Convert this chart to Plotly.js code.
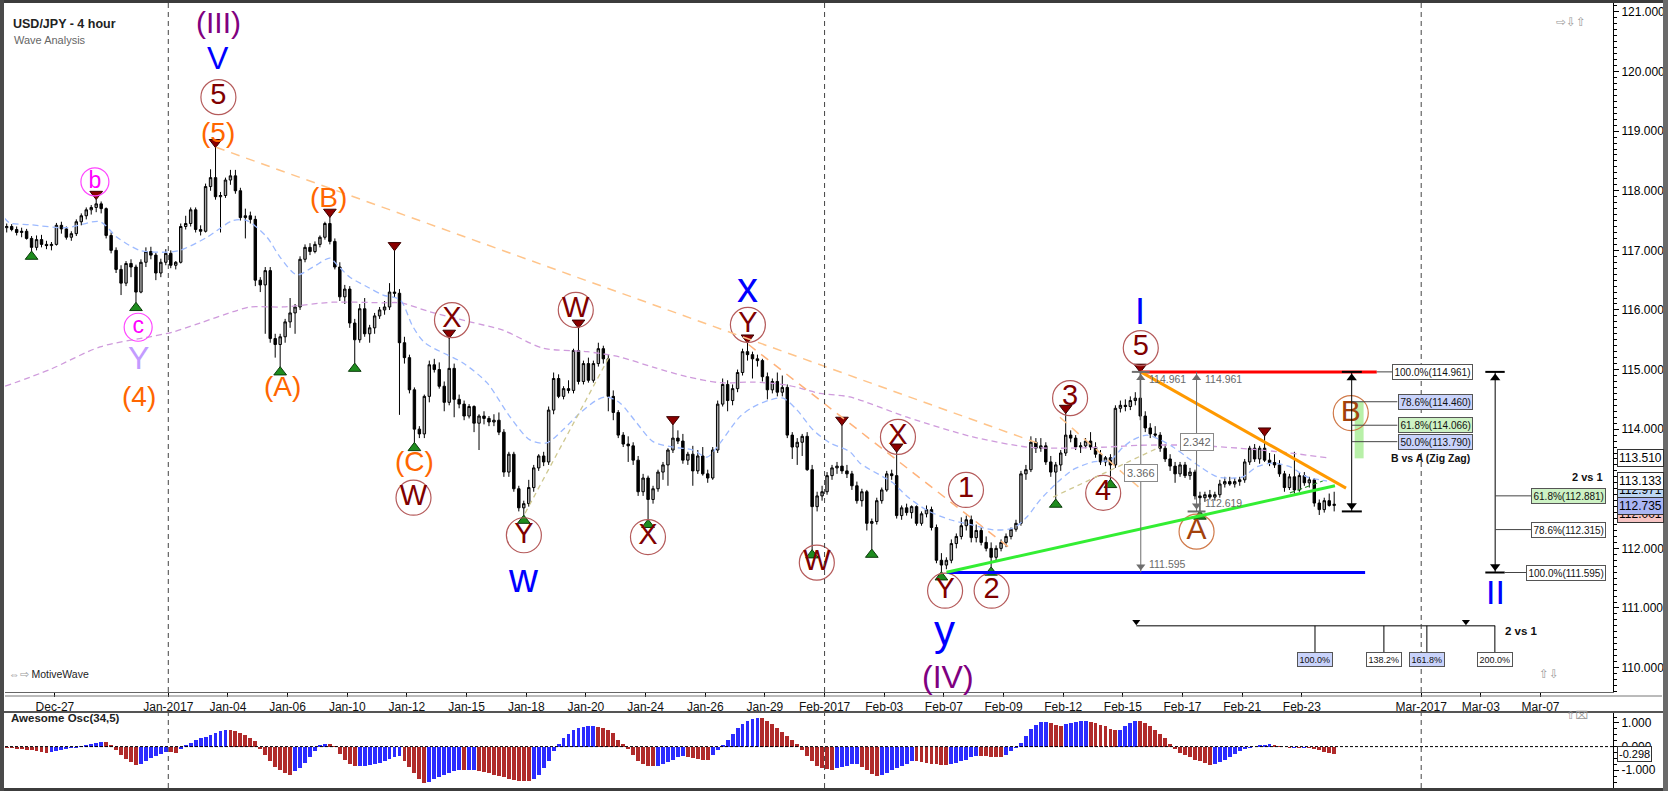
<!DOCTYPE html>
<html>
<head>
<meta charset="utf-8">
<script src="https://cdn.plot.ly/plotly-3.0.1.min.js"></script>
<style>
html,body{margin:0;padding:0;background:#fff;overflow:hidden;}
#chart{width:1668px;height:791px;}
</style>
</head>
<body>
<div id="chart"></div>
<script>
// ================= DATA =================
// x axis = trading-day index (Mon 2 Jan 2017 = 0), 6 four-hour bars per day
const tickLabels = ['Dec-27','Jan-2017','Jan-04','Jan-06','Jan-10','Jan-12','Jan-15','Jan-18','Jan-20','Jan-24','Jan-26','Jan-29',
  'Feb-2017','Feb-03','Feb-07','Feb-09','Feb-12','Feb-15','Feb-17','Feb-21','Feb-23','Mar-2017','Mar-03','Mar-07'];
const tickDays = [-3.8,0,2,4,6,8,10,12,14,16,18,20,22,24,26,28,30,32,34,36,38,42,44,46];
const monthStartDays = [0,22,42];
const firstBarDay = -6 + 3.5/6;   // 4th bar of Fri 23 Dec

const open = [
117.38,117.40,117.35,
117.30,117.32,117.20,117.05,117.18,117.10,
117.08,117.10,117.42,117.36,117.22,117.28,
117.48,117.58,117.68,117.72,117.78,117.70,
117.25,117.00,116.68,116.45,116.78,116.72,
116.30,116.80,116.98,116.92,116.62,116.80,
116.95,116.75,116.80,117.40,117.45,117.68,
117.35,117.32,118.07,118.22,117.90,117.92,
118.18,118.25,118.00,117.55,117.58,117.52,
116.50,116.42,116.66,115.52,115.42,115.55,
115.80,115.95,116.05,116.85,117.05,116.98,
117.10,117.22,117.45,117.15,116.72,116.22,
116.35,115.78,115.50,116.02,115.60,115.70,
115.90,116.00,116.05,116.30,116.28,115.45,
115.20,114.66,114.00,113.92,114.55,115.08,
115.00,114.72,114.45,115.02,114.50,114.42,
114.22,114.38,114.10,114.22,114.18,114.12,
114.15,113.95,113.28,113.58,113.00,112.68,
112.75,113.02,113.35,113.55,113.45,114.32,
114.85,114.55,114.68,114.65,115.32,114.80,
115.10,114.82,115.10,115.35,115.18,114.55,
114.28,113.90,113.75,113.72,113.48,112.95,
113.18,112.82,113.00,113.28,113.40,113.65,
113.85,113.80,113.48,113.58,113.30,113.55,
113.25,113.18,113.65,114.42,114.75,114.48,
114.68,114.95,115.30,115.25,115.18,115.15,
114.88,114.66,114.80,114.62,114.70,113.90,
113.70,113.78,113.88,113.32,112.70,112.88,
112.95,113.22,113.35,113.38,113.30,113.25,
113.05,112.80,112.95,112.42,112.45,112.80,
112.98,113.25,113.22,112.55,112.68,112.60,
112.70,112.42,112.58,112.65,112.35,111.80,
111.72,111.80,112.08,112.20,112.38,112.48,
112.18,112.30,112.10,112.00,111.85,112.00,
112.10,112.20,112.32,112.42,113.25,113.32,
113.78,113.68,113.72,113.45,113.28,113.40,
113.60,113.90,113.85,113.70,113.72,113.80,
113.70,113.58,113.45,113.52,113.40,114.35,
114.40,114.38,114.48,114.52,114.22,114.02,
113.92,113.90,113.68,113.50,113.38,113.25,
113.40,113.22,113.28,112.88,112.85,112.90,
112.86,112.90,113.08,113.12,113.08,113.12,
113.15,113.45,113.68,113.50,113.68,113.48,
113.44,113.40,113.25,113.02,113.20,112.98,
113.22,113.10,113.15,112.76,112.65,112.80,
112.72];

const high = [
117.45,117.44,117.40,
117.38,117.36,117.24,117.25,117.26,117.16,
117.14,117.46,117.48,117.40,117.32,117.52,
117.62,117.72,117.76,117.86,117.82,117.72,
117.30,117.05,116.75,116.82,116.85,116.76,
116.85,117.05,117.06,116.96,116.86,117.02,
117.00,116.82,117.45,117.58,117.72,117.72,
117.42,118.12,118.36,118.73,117.98,118.22,
118.35,118.35,118.05,117.70,117.65,117.58,
116.55,116.72,116.72,115.60,115.60,115.85,
116.20,116.10,116.90,117.10,117.12,117.15,
117.25,117.48,117.56,117.20,116.80,116.42,
116.40,115.85,116.10,116.20,115.75,115.95,
116.05,116.15,116.45,117.00,116.35,115.55,
115.25,114.70,114.05,114.58,115.15,115.18,
115.12,114.80,115.53,115.10,114.58,114.48,
114.42,114.40,114.25,114.30,114.22,114.25,
114.28,114.00,113.62,113.62,113.05,112.80,
113.15,113.40,113.58,113.62,114.38,114.95,
114.92,114.72,114.82,115.35,115.70,115.15,
115.20,115.15,115.45,115.40,115.25,114.65,
114.32,113.95,113.88,113.78,113.55,113.25,
113.22,113.05,113.32,113.45,113.68,114.08,
113.98,113.92,113.62,113.72,113.65,113.70,
113.32,113.70,114.48,114.85,114.82,114.75,
115.00,115.35,115.45,115.30,115.25,115.18,
114.95,114.85,114.95,114.90,114.75,113.95,
113.85,113.92,113.95,113.40,112.95,113.05,
113.28,113.40,113.45,114.07,113.40,113.30,
113.12,113.00,112.98,112.50,112.85,113.02,
113.30,113.32,113.62,112.72,112.75,112.72,
112.72,112.62,112.72,112.70,112.40,111.92,
111.85,112.15,112.25,112.52,112.55,112.55,
112.40,112.35,112.20,112.10,112.05,112.15,
112.25,112.35,112.48,113.30,113.40,113.88,
113.85,113.85,113.78,113.55,113.45,113.65,
114.27,113.98,113.90,113.78,113.85,113.95,
113.78,113.65,113.55,113.58,114.40,114.48,
114.50,114.55,114.62,114.96,114.30,114.10,
114.05,113.95,113.75,113.58,113.45,113.45,
113.45,113.35,113.32,112.95,112.95,112.98,
112.95,113.15,113.20,113.20,113.18,113.20,
113.50,113.72,113.75,113.72,113.89,113.60,
113.58,113.48,113.30,113.25,113.62,113.28,
113.28,113.20,113.18,112.82,112.85,112.92,
112.95];

const low = [
117.30,117.32,117.25,
117.22,117.18,116.98,117.00,117.05,117.02,
117.00,117.08,117.28,117.18,117.16,117.24,
117.42,117.52,117.60,117.64,117.62,117.20,
116.95,116.62,116.25,116.40,116.55,116.12,
116.28,116.72,116.85,116.50,116.55,116.75,
116.70,116.68,116.78,117.35,117.40,117.30,
117.25,117.30,118.00,117.85,117.30,117.88,
118.10,117.95,117.50,117.20,117.45,116.40,
116.30,115.60,115.45,115.20,115.04,115.45,
115.70,115.60,116.00,116.80,116.92,116.95,
117.05,117.18,117.10,116.68,116.15,116.10,
115.70,115.10,115.45,115.55,115.45,115.60,
115.85,115.92,116.00,116.20,114.24,115.10,
114.60,113.77,113.85,113.85,114.45,114.95,
114.68,114.30,114.40,114.20,114.35,114.15,
114.18,113.95,113.65,114.08,114.05,114.05,
113.90,113.20,113.20,112.95,112.62,112.55,
112.70,112.95,113.30,113.38,113.40,114.25,
114.52,114.50,114.60,114.60,114.75,114.75,
114.78,114.78,115.05,115.10,114.30,114.15,
113.85,113.70,113.45,113.40,112.88,112.88,
112.48,112.75,112.95,113.15,113.05,113.60,
113.75,113.42,113.40,113.05,113.25,113.22,
113.10,113.15,113.60,114.38,114.30,114.40,
114.62,114.90,115.15,114.85,115.05,114.80,
114.50,114.60,114.55,114.55,113.85,113.50,
113.40,113.55,113.30,111.97,112.62,112.80,
112.90,113.15,113.25,113.25,113.18,112.98,
112.75,112.70,112.30,111.98,112.40,112.75,
112.95,113.15,112.50,112.48,112.55,112.50,
112.38,112.38,112.52,112.30,111.75,111.60,
111.65,111.75,112.00,112.15,112.30,112.10,
112.10,112.05,111.95,111.68,111.80,111.95,
112.02,112.15,112.28,112.38,113.15,113.28,
113.60,113.62,113.40,113.20,112.82,113.30,
113.55,113.78,113.65,113.60,113.68,113.65,
113.52,113.40,113.38,113.15,113.35,114.28,
114.30,114.32,114.40,114.15,113.95,113.85,
113.85,113.62,113.45,113.30,113.10,113.20,
113.18,113.15,112.82,112.62,112.78,112.82,
112.80,112.85,113.02,113.05,113.02,113.05,
113.10,113.40,113.45,113.42,113.45,113.38,
113.35,113.20,112.95,112.98,112.92,112.95,
113.05,113.02,112.70,112.56,112.60,112.70,
112.62];

const close = [
117.40,117.35,117.30,
117.32,117.20,117.05,117.18,117.10,117.08,
117.10,117.42,117.36,117.22,117.28,117.48,
117.58,117.68,117.72,117.78,117.70,117.25,
117.00,116.68,116.45,116.78,116.72,116.30,
116.80,116.98,116.92,116.62,116.80,116.95,
116.75,116.80,117.40,117.45,117.68,117.35,
117.32,118.07,118.22,117.90,117.92,118.18,
118.25,118.00,117.55,117.58,117.52,116.50,
116.42,116.66,115.52,115.42,115.55,115.80,
115.95,116.05,116.85,117.05,116.98,117.10,
117.22,117.45,117.15,116.72,116.22,116.35,
115.78,115.50,116.02,115.60,115.70,115.90,
116.00,116.05,116.30,116.28,115.45,115.20,
114.66,114.00,113.92,114.55,115.08,115.00,
114.72,114.45,115.02,114.50,114.42,114.22,
114.38,114.10,114.22,114.18,114.12,114.15,
113.95,113.28,113.58,113.00,112.68,112.75,
113.02,113.35,113.55,113.45,114.32,114.85,
114.55,114.68,114.65,115.32,114.80,115.10,
114.82,115.10,115.35,115.18,114.55,114.28,
113.90,113.75,113.72,113.48,112.95,113.18,
112.82,113.00,113.28,113.40,113.65,113.85,
113.80,113.48,113.58,113.30,113.55,113.25,
113.18,113.65,114.42,114.75,114.48,114.68,
114.95,115.30,115.25,115.18,115.15,114.88,
114.66,114.80,114.62,114.70,113.90,113.70,
113.78,113.88,113.32,112.70,112.88,112.95,
113.22,113.35,113.38,113.30,113.25,113.05,
112.80,112.95,112.42,112.45,112.80,112.98,
113.25,113.22,112.55,112.68,112.60,112.70,
112.42,112.58,112.65,112.35,111.80,111.72,
111.80,112.08,112.20,112.38,112.48,112.18,
112.30,112.10,112.00,111.85,112.00,112.10,
112.20,112.32,112.42,113.25,113.32,113.78,
113.68,113.72,113.45,113.28,113.40,113.60,
113.90,113.85,113.70,113.72,113.80,113.70,
113.58,113.45,113.52,113.40,114.35,114.40,
114.38,114.48,114.52,114.22,114.02,113.92,
113.90,113.68,113.50,113.38,113.25,113.40,
113.22,113.28,112.88,112.85,112.90,112.86,
112.90,113.08,113.12,113.08,113.12,113.15,
113.45,113.68,113.50,113.68,113.48,113.44,
113.40,113.25,113.02,113.20,112.98,113.22,
113.10,113.15,112.76,112.65,112.80,112.72,
112.74];

// Awesome Oscillator (34,5), one value per bar
const ao = [
-0.05,-0.08,-0.10,
-0.12,-0.14,-0.16,-0.18,-0.22,-0.28,
-0.24,-0.20,-0.16,-0.12,-0.08,-0.04,
0.02,0.08,0.13,0.17,0.20,0.18,
0.08,-0.15,-0.35,-0.52,-0.66,-0.76,
-0.72,-0.62,-0.50,-0.40,-0.30,-0.22,
-0.24,-0.26,-0.12,0.05,0.15,0.28,
0.36,0.42,0.50,0.58,0.66,0.72,
0.70,0.65,0.58,0.50,0.38,0.22,
-0.10,-0.35,-0.60,-0.85,-1.00,-1.12,
-1.18,-1.05,-0.90,-0.70,-0.45,-0.20,
0.05,0.12,0.10,0.04,-0.30,-0.55,
-0.75,-0.83,-0.82,-0.80,-0.76,-0.72,
-0.68,-0.60,-0.52,-0.46,-0.40,-0.60,
-0.85,-1.10,-1.35,-1.53,-1.48,-1.38,
-1.30,-1.20,-1.10,-1.03,-0.98,-1.00,
-0.98,-0.97,-1.02,-1.07,-1.12,-1.18,
-1.24,-1.30,-1.36,-1.41,-1.45,-1.46,
-1.47,-1.38,-1.18,-0.92,-0.60,-0.20,
0.10,0.35,0.55,0.70,0.78,0.82,
0.85,0.87,0.84,0.78,0.70,0.58,
0.30,0.12,-0.10,-0.35,-0.60,-0.75,
-0.80,-0.83,-0.80,-0.75,-0.67,-0.58,
-0.45,-0.38,-0.42,-0.48,-0.52,-0.55,
-0.56,-0.35,-0.15,0.05,0.30,0.55,
0.80,0.95,1.08,1.16,1.22,1.20,
1.10,0.95,0.80,0.62,0.45,0.28,
0.10,-0.15,-0.40,-0.62,-0.80,-0.92,
-0.95,-0.97,-0.90,-0.85,-0.80,-0.75,
-0.72,-0.85,-1.00,-1.15,-1.25,-1.20,
-1.10,-1.00,-0.90,-0.80,-0.72,-0.60,
-0.62,-0.65,-0.70,-0.72,-0.74,-0.76,
-0.77,-0.72,-0.68,-0.62,-0.55,-0.45,
-0.38,-0.40,-0.41,-0.42,-0.44,-0.45,
-0.35,-0.20,-0.05,0.15,0.45,0.75,
0.92,1.02,1.05,1.00,0.92,0.88,
0.95,1.00,1.05,1.08,1.10,1.05,
0.98,0.92,0.85,0.76,0.70,0.72,
0.88,1.00,1.10,1.08,1.00,0.88,
0.72,0.55,0.35,0.12,-0.10,-0.25,
-0.35,-0.45,-0.55,-0.62,-0.70,-0.76,
-0.74,-0.66,-0.55,-0.45,-0.32,-0.20,
-0.10,-0.05,0.00,0.05,0.08,0.09,
0.06,0.02,-0.03,-0.05,-0.04,-0.06,
-0.05,-0.08,-0.10,-0.15,-0.22,-0.28,
-0.30];

// moving averages (light blue fast, violet slow) read at sample points
const maFastDay = [-5.49,-5.31,-4.64,-3.40,-2.29,-1.72,-0.95,-0.04,0.39,1.30,2.17,2.64,3.31,3.74,4.31,4.85,5.42,5.65,6.09,6.66,
  7.20,7.77,8.20,8.60,9.88,10.68,11.45,12.12,12.69,13.23,13.80,14.37,14.70,15.14,15.71,16.25,16.92,17.59,18.06,18.50,
  19.16,19.60,20.17,20.61,21.08,21.61,22.18,22.85,23.19,23.96,24.29,24.77,25.43,26.21,26.97,27.65,28.32,28.79,29.22,29.79,
  30.33,31.00,31.57,32.01,32.34,32.81,33.25,33.68,34.15,34.59,35.16,35.69,36.03,36.50,37.03,37.60,38.17,38.84];
const maFast = [117.54,117.46,117.43,117.38,117.48,117.22,117.00,116.97,117.00,117.22,117.50,117.50,117.22,116.89,116.59,116.72,116.87,116.76,116.55,116.39,
  116.25,116.17,115.72,115.45,115.11,114.78,114.21,113.82,113.77,113.99,114.27,114.49,114.54,114.44,114.10,113.79,113.70,113.65,113.53,113.77,
  114.21,114.37,114.49,114.52,114.32,113.99,113.77,113.62,113.43,113.20,113.10,112.87,112.64,112.48,112.39,112.31,112.34,112.53,112.81,113.10,
  113.32,113.45,113.48,113.70,113.82,113.90,113.82,113.70,113.53,113.37,113.20,113.18,113.20,113.37,113.43,113.37,113.20,113.13];
const maSlowDay = [-5.47,-3.97,-2.29,-0.61,0.16,1.06,2.17,2.74,3.85,5.52,7.20,7.77,8.77,10.11,11.22,12.56,14.04,15.14,16.25,17.39,
  18.50,19.60,20.74,21.85,22.85,24.77,26.97,28.79,29.89,31.47,32.58,34.25,35.93,37.60,38.84];
const maSlow = [114.72,115.00,115.38,115.55,115.63,115.78,115.97,116.05,116.05,116.13,116.12,116.12,115.97,115.80,115.66,115.36,115.30,115.21,115.04,114.88,
  114.78,114.79,114.74,114.60,114.54,114.20,113.87,113.70,113.68,113.70,113.73,113.73,113.68,113.60,113.52];

// swing markers (bar indices)
const topPivotBars = [18,42,65,78,89,115,134,149,168,179,213,228,253];
const bottomPivotBars = [5,26,55,70,82,104,129,162,174,188,198,211,222,240];

// wave labels
const circleLabels = ['5','W','X','Y','W','X','Y','W','X','1','Y','2','3','4','5'];
const circleDay   = [1.68,8.22,9.51,11.92,13.66,16.08,19.43,21.74,24.46,26.74,26.04,27.60,30.23,31.34,32.60];
const circlePrice = [119.57,112.85,115.83,112.22,116.00,112.19,115.75,111.76,113.87,112.98,111.29,111.29,114.52,112.93,115.36];
const abLabels = ['A','B'];
const abDay = [34.47,39.64];
const abPrice = [112.28,114.27];
const minorLabels = ['b','c'];
const minorDay = [-2.46,-1.01];
const minorPrice = [118.15,115.71];
const plainLabels = ['(III)','V','(5)','Y','(4)','(A)','(B)','(C)','w','x','y','(IV)','I','II'];
const plainDay   = [1.68,1.68,1.68,-1.01,-0.98,3.84,5.36,8.27,11.89,19.43,26.02,26.15,32.57,44.48];
const plainPrice = [120.83,120.23,118.97,115.19,114.54,114.71,117.88,113.45,111.50,116.37,110.62,109.84,115.97,111.27];

// drawn lines [day0, price0, day1, price1]
const waveHighLine = [32.60,114.961,40.51,114.961];
const waveLowLine  = [26.10,111.595,40.12,111.595];
const triUpper     = [32.60,114.961,39.48,113.01];
const triLower     = [26.09,111.60,39.11,113.05];
const dashLong     = [1.60,118.73,29.12,113.77];
const dashSteep    = [19.45,115.42,28.30,111.97];
const dashShort    = [29.89,114.20,32.57,113.01];
const khaki1       = [11.96,112.59,14.81,115.24];
const khaki2       = [29.66,112.86,33.24,113.70];

// measurements
const measureDay = [32.60,34.47];
const measureTop = [114.961,114.961];
const measureBottom = [111.595,112.619];
const measureSpan = ['3.366','2.342'];
const measureSpanPrice = [113.26,113.79];

// fibonacci boxes
const fibABText = ['100.0%(114.961)','78.6%(114.460)','61.8%(114.066)','50.0%(113.790)'];
const fibABLevel = [114.961,114.460,114.066,113.790];
const fib21Text = ['61.8%(112.881)','78.6%(112.315)','100.0%(111.595)'];
const fib21Level = [112.881,112.315,111.595];
const timeFibText = ['100.0%','138.2%','161.8%','200.0%'];
const timeFibDay = [38.44,40.75,42.19,44.47];

const priceTicks = [110,111,112,113,114,115,116,117,118,119,120,121];
const tagText = ['112.001','112.971','112.735','113.133','113.510'];
const tagPrice = [112.57,112.98,112.71,113.13,113.51];
const aoLast = '-0.298';

// ================= DRAWING =================
const W = 1668, H = 791;
const px = v => v / W, py = v => 1 - v / H;
const PRICE_RANGE = [109.59, 121.15];
const X_RANGE = [-5.474, 48.43];
const pxPerUnit = (692 - 3) / (PRICE_RANGE[1] - PRICE_RANGE[0]);
const off = p => p / pxPerUnit;

const barDay = open.map((_, i) => firstBarDay + i / 6);
const FONT = 'Liberation Sans, Arial, sans-serif';

const traces = [];
traces.push({type:'scatter', mode:'lines', x:maSlowDay, y:maSlow, hoverinfo:'skip',
  line:{color:'#cf9bdc', width:1.3, dash:'6px,4px', shape:'spline', smoothing:0.8}});
traces.push({type:'scatter', mode:'lines', x:maFastDay, y:maFast, hoverinfo:'skip',
  line:{color:'#9dbaff', width:1.3, dash:'6px,4px', shape:'spline', smoothing:0.8}});
traces.push({type:'candlestick', x:barDay, open:open, high:high, low:low, close:close, hoverinfo:'skip',
  whiskerwidth:0,
  increasing:{line:{color:'#000', width:1}, fillcolor:'#a8a8a8'},
  decreasing:{line:{color:'#000', width:1}, fillcolor:'#000'}});
traces.push({type:'scatter', mode:'markers', hoverinfo:'skip',
  x:topPivotBars.map(i => barDay[i]), y:topPivotBars.map(i => high[i] + off(5)),
  marker:{symbol:'triangle-down', size:11, color:'#8b0000', line:{color:'#3a0000', width:1}}});
traces.push({type:'scatter', mode:'markers', hoverinfo:'skip',
  x:bottomPivotBars.map(i => barDay[i]), y:bottomPivotBars.map(i => low[i] - off(5)),
  marker:{symbol:'triangle-up', size:11, color:'#1e8c1e', line:{color:'#0b3b0b', width:1}}});

// AO histogram
traces.push({type:'bar', x:barDay, y:ao, xaxis:'x', yaxis:'y2', hoverinfo:'skip', width:0.13,
  marker:{color:ao.map((v,i) => (i > 0 && v > ao[i-1]) ? '#2b2bff' : '#b02a2a'), line:{width:0}}});

// circled labels
traces.push({type:'scatter', mode:'markers+text', x:circleDay, y:circlePrice, text:circleLabels, hoverinfo:'skip',
  textposition:'middle center', textfont:{family:FONT, size:29, color:'#800000'},
  marker:{symbol:'circle-open', size:35, color:'#b55b5b', line:{width:1.2}}});
traces.push({type:'scatter', mode:'markers+text', x:abDay, y:abPrice, text:abLabels, hoverinfo:'skip',
  textposition:'middle center', textfont:{family:FONT, size:30, color:'#a3420c'},
  marker:{symbol:'circle-open', size:35, color:'#d07a4a', line:{width:1.2}}});
traces.push({type:'scatter', mode:'markers+text', x:minorDay, y:minorPrice, text:minorLabels, hoverinfo:'skip',
  textposition:'middle center', textfont:{family:FONT, size:23, color:'#ff00ff'},
  marker:{symbol:'circle-open', size:28, color:'#ff44ff', line:{width:1.2}}});

// arrowheads of measuring tools
traces.push({type:'scatter', mode:'markers', hoverinfo:'skip',
  x:[measureDay[0],measureDay[0],measureDay[1],measureDay[1]],
  y:[measureTop[0]-off(6),measureBottom[0]+off(6),measureTop[1]-off(6),measureBottom[1]+off(6)],
  marker:{symbol:['triangle-up','triangle-down','triangle-up','triangle-down'], size:8, color:'#6e6e6e'}});
const abDayX = 39.67, d21X = 44.48;
traces.push({type:'scatter', mode:'markers', hoverinfo:'skip',
  x:[abDayX,abDayX,d21X,d21X],
  y:[fibABLevel[0]-off(6),112.62+off(6),fibABLevel[0]-off(6),fib21Level[2]+off(6)],
  marker:{symbol:['triangle-up','triangle-down','triangle-up','triangle-down'], size:9, color:'#000'}});
traces.push({type:'scatter', mode:'markers', hoverinfo:'skip',
  x:[32.45,43.5], y:[110.70+off(4),110.70+off(4)],
  marker:{symbol:'triangle-down', size:7, color:'#000'}});

// ---- shapes ----
const shapes = [];
function seg(a, color, width, dash){ shapes.push({type:'line', xref:'x', yref:'y', x0:a[0], y0:a[1], x1:a[2], y1:a[3], line:{color:color, width:width, dash:dash||'solid'}}); }
shapes.push({type:'rect', xref:'x', yref:'y', x0:39.77, x1:40.07, y0:113.51, y1:114.46, fillcolor:'#b8f0a8', line:{width:0}, layer:'below'});
seg(dashLong, '#ffc48a', 1.5, '9px,7px');
seg(dashSteep, '#ffb27a', 1.5, '9px,7px');
seg(dashShort, '#ffc48a', 1.5, '9px,7px');
seg(khaki1, '#cfc890', 1.3, '5px,4px');
seg(khaki2, '#cfc890', 1.3, '5px,4px');
seg([37.6,112.93,38.7,113.13], '#2e8b2e', 1.2, '5px,3px');
seg(waveHighLine, '#ff0000', 3);
seg(waveLowLine, '#0000ff', 3);
seg(triUpper, '#ff9900', 3);
seg(triLower, '#33ee33', 3);
// measuring tools
for (let i = 0; i < 2; i++) seg([measureDay[i], measureTop[i], measureDay[i], measureBottom[i]], '#6e6e6e', 1);
seg([32.30,114.961,32.90,114.961], '#6e6e6e', 2);
seg([34.17,112.619,34.77,112.619], '#6e6e6e', 2);
// B vs A fib
seg([abDayX, 112.62, abDayX, fibABLevel[0]], '#000', 1);
seg([39.34, fibABLevel[0], 40.01, fibABLevel[0]], '#000', 2);
seg([39.34, 112.62, 40.01, 112.62], '#000', 2);
seg([40.51, fibABLevel[0], 41.2, fibABLevel[0]], '#444', 1);
for (let i = 1; i < fibABLevel.length; i++) seg([abDayX, fibABLevel[i], 41.2, fibABLevel[i]], '#444', 1);
// 2 vs 1 fib
seg([d21X, fib21Level[2], d21X, fibABLevel[0]], '#000', 1);
seg([44.15, fibABLevel[0], 44.80, fibABLevel[0]], '#000', 2);
seg([44.15, fib21Level[2], 44.80, fib21Level[2]], '#000', 2);
for (let i = 0; i < fib21Level.length; i++) seg([i === 2 ? 44.80 : d21X, fib21Level[i], 45.8, fib21Level[i]], '#444', 1);
// time fib
seg([32.45, 110.70, 44.48, 110.70], '#000', 1);
timeFibDay.forEach(d => seg([d, 110.70, d, 110.26], '#000', 1));
// month separators
monthStartDays.forEach(d => {
  shapes.push({type:'line', xref:'x', yref:'paper', x0:d, x1:d, y0:py(692), y1:py(3), line:{color:'#444', width:1, dash:'5px,4px'}});
  shapes.push({type:'line', xref:'x', yref:'paper', x0:d, x1:d, y0:py(788), y1:py(713), line:{color:'#444', width:1, dash:'5px,4px'}});
});
// AO zero line
shapes.push({type:'line', xref:'x', yref:'y2', x0:X_RANGE[0], x1:X_RANGE[1], y0:0, y1:0, line:{color:'#000', width:1, dash:'3px,2px'}});
// frame
shapes.push({type:'line', xref:'paper', yref:'paper', x0:px(5), x1:px(1662), y0:py(696), y1:py(696), line:{color:'#777', width:1}});
shapes.push({type:'line', xref:'paper', yref:'paper', x0:0, x1:1, y0:py(712), y1:py(712), line:{color:'#555', width:2}});
shapes.push({type:'rect', xref:'paper', yref:'paper', x0:0, x1:1, y0:py(3), y1:1, fillcolor:'#3c3c3c', line:{width:0}});
shapes.push({type:'rect', xref:'paper', yref:'paper', x0:0, x1:1, y0:0, y1:py(788), fillcolor:'#3c3c3c', line:{width:0}});
shapes.push({type:'rect', xref:'paper', yref:'paper', x0:0, x1:px(4), y0:0, y1:1, fillcolor:'#4a4a4a', line:{width:0}});
shapes.push({type:'rect', xref:'paper', yref:'paper', x0:px(1663), x1:1, y0:0, y1:1, fillcolor:'#6a6a6a', line:{width:0}});

// ---- annotations ----
const ann = [];
const plainColor = ['#800080','#0000ff','#ff6600','#c39bff','#ff6600','#ff6600','#ff6600','#ff6600','#0000ff','#0000ff','#0000ff','#800080','#0000ff','#0000ff'];
const plainSize  = [30,32,28,32,28,28,28,28,40,42,42,32,36,34];
plainLabels.forEach((t,i) => ann.push({x:plainDay[i], y:plainPrice[i], xref:'x', yref:'y', text:t, showarrow:false,
  font:{family:FONT, size:plainSize[i], color:plainColor[i]}}));
// measuring labels
const mFont = {family:FONT, size:10.5, color:'#6a6a6a'};
ann.push({x:32.80, y:114.84, xref:'x', yref:'y', text:'114.961', showarrow:false, xanchor:'left', font:mFont});
ann.push({x:34.68, y:114.84, xref:'x', yref:'y', text:'114.961', showarrow:false, xanchor:'left', font:mFont});
ann.push({x:32.80, y:111.74, xref:'x', yref:'y', text:'111.595', showarrow:false, xanchor:'left', font:mFont});
ann.push({x:34.68, y:112.76, xref:'x', yref:'y', text:'112.619', showarrow:false, xanchor:'left', font:mFont});
measureSpan.forEach((t,i) => ann.push({x:measureDay[i], y:measureSpanPrice[i], xref:'x', yref:'y', text:t, showarrow:false,
  bgcolor:'#fff', bordercolor:'#8a8a8a', borderwidth:1, borderpad:2, font:{family:FONT, size:11, color:'#666'}}));
// fib labels
const fibBg = {white:'#ffffff', blue:'#c9d3fb', green:'#cdf2c4'};
const fibABBg = [fibBg.white, fibBg.blue, fibBg.green, fibBg.blue];
fibABText.forEach((t,i) => ann.push({x:43.74, y:fibABLevel[i], xref:'x', yref:'y', text:t, showarrow:false, xanchor:'right',
  bgcolor:fibABBg[i], bordercolor:'#555', borderwidth:1, borderpad:1.5, font:{family:FONT, size:10, color:'#111'}}));
ann.push({x:43.71, y:113.52, xref:'x', yref:'y', text:'<b>B vs A (Zig Zag)</b>', showarrow:false, xanchor:'right',
  font:{family:FONT, size:10.5, color:'#111'}});
const fib21Bg = [fibBg.green, fibBg.white, fibBg.white];
fib21Text.forEach((t,i) => ann.push({x:48.19, y:fib21Level[i], xref:'x', yref:'y', text:t, showarrow:false, xanchor:'right',
  bgcolor:fib21Bg[i], bordercolor:'#555', borderwidth:1, borderpad:1.5, font:{family:FONT, size:10, color:'#111'}}));
ann.push({x:48.16, y:113.19, xref:'x', yref:'y', text:'<b>2 vs 1</b>', showarrow:false, xanchor:'right',
  font:{family:FONT, size:11, color:'#111'}});
const timeBg = [fibBg.blue, fibBg.white, fibBg.blue, fibBg.white];
timeFibText.forEach((t,i) => ann.push({x:timeFibDay[i], y:110.13, xref:'x', yref:'y', text:t, showarrow:false,
  bgcolor:timeBg[i], bordercolor:'#555', borderwidth:1, borderpad:1.5, font:{family:FONT, size:9, color:'#111'}}));
ann.push({x:44.74, y:110.61, xref:'x', yref:'y', text:'<b>2 vs 1</b>', showarrow:false, xanchor:'left',
  font:{family:FONT, size:11.5, color:'#111'}});
// price tags on the axis
const tagBg = ['#f6c4c4','#bcd6f2','#aab6f4','#ffffff','#ffffff'];
tagText.forEach((t,i) => ann.push({x:px(1617), y:tagPrice[i], xref:'paper', yref:'y', text:t, showarrow:false, xanchor:'left',
  bgcolor:tagBg[i], bordercolor:'#333', borderwidth:1, borderpad:1, font:{family:FONT, size:12, color:'#000'}}));
ann.push({x:px(1617), y:-0.298, xref:'paper', yref:'y2', text:aoLast, showarrow:false, xanchor:'left',
  bgcolor:'#fff', bordercolor:'#333', borderwidth:1, borderpad:1, font:{family:FONT, size:11, color:'#000'}});
// titles and captions
ann.push({x:px(11), y:py(15), xref:'paper', yref:'paper', text:'<b>USD/JPY - 4 hour</b>', showarrow:false, xanchor:'left',
  font:{family:FONT, size:12.5, color:'#222'}});
ann.push({x:px(12), y:py(32), xref:'paper', yref:'paper', text:'Wave Analysis', showarrow:false, xanchor:'left',
  font:{family:FONT, size:11, color:'#666'}});
ann.push({x:px(9), y:py(726), xref:'paper', yref:'paper', text:'<b>Awesome Osc(34,5)</b>', showarrow:false, xanchor:'left',
  font:{family:FONT, size:11.5, color:'#222'}});
ann.push({x:px(7), y:py(682), xref:'paper', yref:'paper', text:'<span style="color:#999">⇔⇨</span> MotiveWave', showarrow:false, xanchor:'left',
  font:{family:FONT, size:10.5, color:'#222'}});
ann.push({x:px(1588), y:py(13), xref:'paper', yref:'paper', text:'⇨⇩⇧', showarrow:false, font:{family:'DejaVu Sans', size:12, color:'#9a9a9a'}});
ann.push({x:px(1561), y:py(683), xref:'paper', yref:'paper', text:'⇧⇩', showarrow:false, font:{family:'DejaVu Sans', size:12, color:'#9a9a9a'}});
ann.push({x:px(1590), y:py(724), xref:'paper', yref:'paper', text:'⇧⌧', showarrow:false, font:{family:'DejaVu Sans', size:11, color:'#9a9a9a'}});

const layout = {
  width:W, height:H, margin:{l:0, r:0, t:0, b:0}, autosize:false,
  paper_bgcolor:'#fff', plot_bgcolor:'#fff', showlegend:false, bargap:0,
  font:{family:FONT},
  xaxis:{domain:[px(5), px(1613)], range:X_RANGE, anchor:'y', tickmode:'array', tickvals:tickDays, ticktext:tickLabels,
    ticks:'outside', ticklen:4, tickcolor:'#000', showline:true, linecolor:'#666', linewidth:1, showgrid:false, zeroline:false,
    tickfont:{family:FONT, size:12, color:'#111'}, rangeslider:{visible:false}, fixedrange:true},
  yaxis:{domain:[py(692), py(3)], range:PRICE_RANGE, anchor:'x', side:'right', tickmode:'array', tickvals:priceTicks,
    ticktext:priceTicks.map(v => v.toFixed(3)), ticks:'outside', ticklen:5, tickcolor:'#000', showline:true, linecolor:'#000',
    showgrid:false, zeroline:false, tickfont:{family:FONT, size:12, color:'#000'}, fixedrange:true,
    minor:{tickmode:'linear', tick0:110, dtick:0.1, ticks:'outside', ticklen:3, tickcolor:'#000', showgrid:false}},
  yaxis2:{domain:[py(788), py(713)], range:[-1.75, 1.42], anchor:'x', side:'right', tickmode:'array', tickvals:[-1,0,1],
    ticktext:['-1.000','0.000','1.000'], ticks:'outside', ticklen:5, tickcolor:'#000', showline:true, linecolor:'#000',
    showgrid:false, zeroline:false, tickfont:{family:FONT, size:12, color:'#000'}, fixedrange:true,
    minor:{tickmode:'linear', tick0:0, dtick:0.25, ticks:'outside', ticklen:3, tickcolor:'#000', showgrid:false}},
  shapes:shapes, annotations:ann
};

Plotly.newPlot('chart', traces, layout, {staticPlot:true, displayModeBar:false});
</script>
</body>
</html>
